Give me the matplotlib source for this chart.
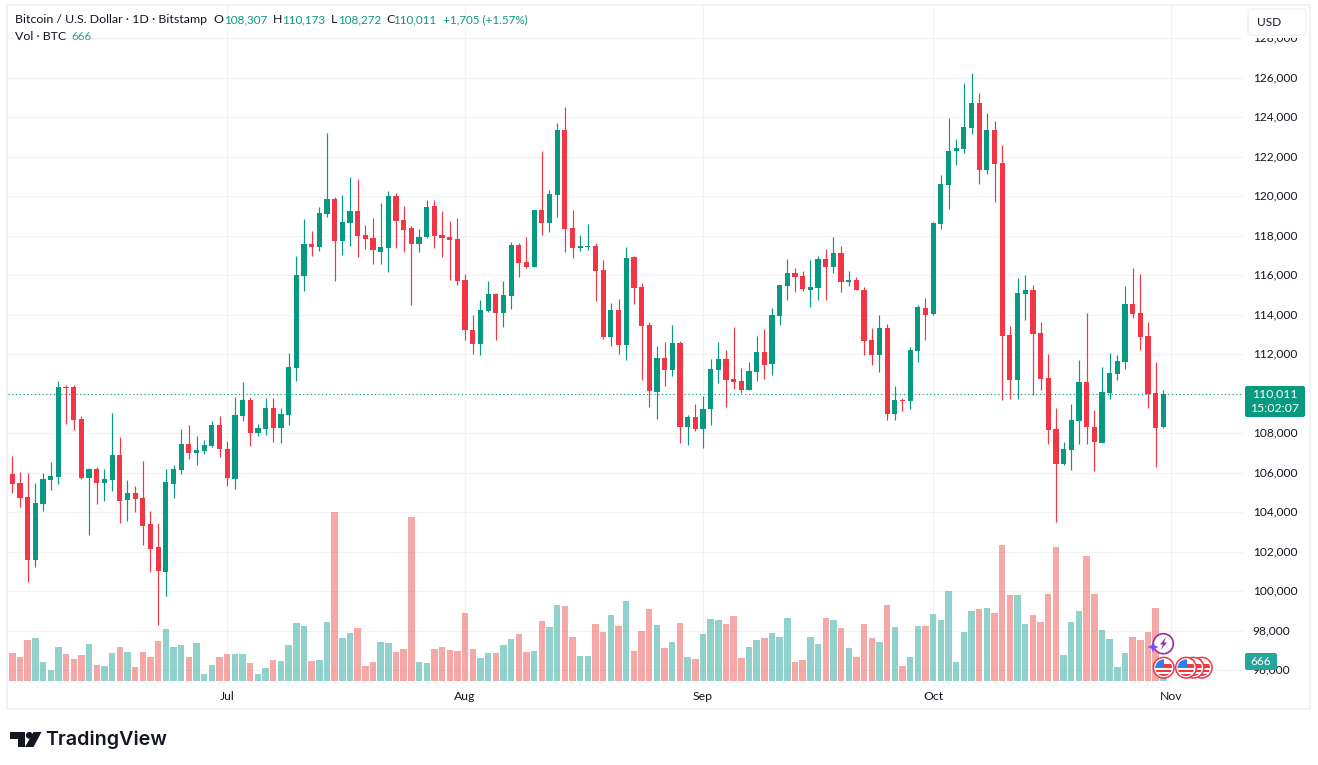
import matplotlib
matplotlib.use("Agg")
import matplotlib.pyplot as plt
import matplotlib.dates as mdates
from matplotlib.patches import Rectangle, FancyBboxPatch, Circle, Polygon
from matplotlib.ticker import FuncFormatter
from matplotlib.transforms import ScaledTranslation
import numpy as np
import pandas as pd

first_day = "2025-06-03"

opens = [105930,105470,104760,101590,104407,105622,105774,110332,110332,108711,
105723,106179,105470,105622,106888,104609,104964,104710,103394,102229,
100963,105420,106129,107445,106989,107091,107344,108407,107192,105673,
108863,109673,108002,108205,109268,108255,108914,111294,115984,117601,
117449,119116,119874,117752,118662,119268,118055,117904,117197,117399,
120026,118813,118409,117601,117954,119521,118055,117954,117853,115782,
113256,112498,114216,115075,114115,114974,117550,116691,116439,119318,
118662,120076,123360,118409,117399,117449,117500,116287,112852,114266,
112448,116944,115428,113509,110095,111818,111210,112578,108322,108829,
108221,109234,111210,111768,110754,110653,110197,111109,112122,111514,
113946,115466,116125,115973,115264,115365,116835,116429,117139,115669,
115771,115264,112730,111970,113338,108981,109690,109639,112173,114352,
114048,118586,120565,122291,122393,123459,124728,121327,123357,121682,
112978,110700,115055,115257,113080,110801,108218,106446,107155,108623,
110598,108320,107509,110041,111004,111611,114548,114093,112928,110041,
108307]

closes = [105420,104710,101590,104457,105673,105825,110332,110281,108661,105723,
106179,105470,105673,106888,104559,104964,104660,103293,102128,101014,
105521,106179,107445,106989,107141,107395,108407,107192,105723,108914,
109673,108002,108255,109268,108255,108964,111345,116016,117601,117449,
119167,119874,117752,118712,119268,118005,117853,117298,117449,120026,
118763,118308,117601,117954,119470,118005,117904,117803,115732,113206,
112498,114266,115075,114115,115024,117550,116641,116439,119318,118662,
120127,123360,118359,117399,117449,117500,116237,112852,114266,112448,
116894,115378,113458,110124,111818,111210,112578,108322,108829,108221,
109234,111261,111768,110704,110602,110197,111160,112122,111464,113997,
115517,116125,115923,115314,115416,116835,116429,117139,115669,115771,
115264,112680,111970,113338,108981,109690,109639,112224,114402,113997,
118648,120616,122291,122443,123509,124728,121327,123357,121631,112928,
110700,115105,115257,113029,110750,108168,106446,107206,108674,110598,
108320,107560,110092,111054,111662,114548,114042,112877,109991,108269,
110011]

highs = [106870,106060,105980,105470,105977,106534,110636,110433,110433,108863,
106230,106281,106179,109015,107800,105622,105318,106584,104052,103445,
106179,106382,108205,108407,107850,107648,108610,108863,107597,109825,
110585,109825,108458,109775,109775,109268,112053,116978,118864,118258,
119470,123209,119975,120076,120986,120885,118561,118914,119672,120278,
120177,119521,118510,118359,119824,119824,119268,118763,118914,116085,
114014,114772,115732,115126,115732,117702,117651,117954,119318,122299,
120329,123714,124522,119318,118055,118611,117651,116792,114620,114822,
117449,116995,115630,113660,112426,112629,113490,112680,108930,109487,
109893,111768,112629,112224,113389,111312,111616,112933,113288,114352,
115517,116835,116379,116227,116784,116987,117341,117949,117493,116227,
115923,115416,113338,113997,113541,110400,109791,112376,114504,114858,
118687,121073,123966,122900,125743,126250,125235,124220,123814,122596,
113434,115865,116017,115510,113637,112016,109282,107560,109484,111712,
114093,109180,111358,112067,111966,115460,116371,116068,113637,111611,
110173]

lows = [104960,104255,100475,101217,104052,105116,105420,108458,108154,105700,
102837,104407,104559,105065,103445,103546,104002,102331,100963,98279,
99748,104710,105926,106686,106382,106939,107293,106787,105318,105166,
108610,107344,107850,107901,107547,107496,108407,110636,115226,116995,
117247,118965,115732,117045,117500,116944,117348,116590,116590,116186,
117399,117197,114519,117197,117904,117399,116944,115782,115530,112700,
111993,111943,114165,112700,113408,114317,115934,116388,116439,118055,
118207,118965,117197,116894,117247,117298,114721,112751,112397,111993,
111690,114570,110680,109316,108727,110400,110906,107511,107410,108119,
107258,108423,110552,109335,110248,110045,110197,110653,110754,110957,
113490,114757,115162,115213,114402,114757,114757,116125,115162,115466,
115264,111970,111464,111109,108677,108677,109133,109234,111616,112730,
113997,118332,119347,121580,122190,123154,120616,121124,119702,109687,
109738,109738,113738,109940,110193,107459,103509,106395,106142,107459,
107459,106091,107509,109738,110700,111257,113839,112219,109282,106294,
108272]

volumes = [4284,3672,6273,6579,2907,1683,5202,4131,3366,3978,
5661,2448,2295,4284,5202,4437,2142,4437,3672,6120,
7956,5202,5508,3672,5814,1071,2448,3672,4131,4131,
4131,2754,1071,1989,3213,3060,5508,8874,8415,3060,
3213,9027,25857,6579,7344,8109,2295,2907,5967,5814,
4437,4896,25092,2907,2754,4896,5202,4743,4590,10404,
4896,3519,4284,4284,5508,6426,7191,4437,4590,9180,
8262,11628,11475,6732,3825,3825,8721,7497,10098,8415,
12240,4590,7650,11016,8568,5049,5967,8874,3672,3366,
7191,9486,9333,8721,9945,3519,5202,6273,6579,7344,
6732,9639,2907,3213,6732,5661,9639,9333,8109,5049,
3672,8721,6579,5967,11628,8262,2295,3672,8415,8415,
10251,9333,13770,2907,7497,10710,11016,11169,10404,20808,
13158,13158,8721,10098,9027,13311,20502,3978,9027,10710,
19125,13311,7803,6426,2142,4284,6732,6273,7497,11169,
666]

price_ticks = list(range(96000, 130000, 2000))

UP = "#089981"
DOWN = "#F23645"
VOL_UP = "#26A69A"
VOL_DOWN = "#EF5350"
INK = "#131722"
GRID = "#F2F3F6"
TICK_FONT = "Lato"

W, H = 1318, 765
plt.rcParams["font.family"] = [TICK_FONT, "DejaVu Sans"]
fig = plt.figure(figsize=(W / 100, H / 100), dpi=100, facecolor="white")

# Pane rectangle in pixels; both panes share it
pane_l, pane_r, pane_t, pane_b = 8, 1243, 5, 681
rect = [pane_l / W, 1 - pane_b / H, (pane_r - pane_l) / W, (pane_b - pane_t) / H]

dates = pd.date_range(first_day, periods=len(opens), freq="D")
xs = mdates.date2num(dates)
o, c, hi, lo, vol = map(np.array, (opens, closes, highs, lows, volumes))
rising = c >= o

# Price pane
ax = fig.add_axes(rect, zorder=1)
ax.set_facecolor("none")
ax.set_ylim(95460, 129686)
ax.set_xlim(xs[0] - 0.57, xs[0] + 160.38)
ax.yaxis.tick_right()
ax.set_yticks(price_ticks)
ax.yaxis.set_major_formatter(FuncFormatter(lambda v, _: f"{v:,.0f}"))
ax.xaxis.set_major_locator(mdates.MonthLocator())
ax.xaxis.set_major_formatter(mdates.DateFormatter("%b"))
ax.tick_params(axis="y", length=0, pad=7.0, labelsize=8.6, labelcolor=INK)
ax.tick_params(axis="x", length=0, pad=7.5, labelsize=8.8, labelcolor=INK)
ax.grid(True, color=GRID, linewidth=0.8)
ax.set_axisbelow(True)
for s in ax.spines.values():
    s.set_visible(False)

# Nudge the price labels up so they sit centred on their grid lines
nudge = ScaledTranslation(0, 1.2 / 100, fig.dpi_scale_trans)
for tick in ax.yaxis.get_major_ticks():
    tick.label2.set_transform(tick.label2.get_transform() + nudge)

candle_colors = np.where(rising, UP, DOWN)
ax.vlines(xs, lo, hi, colors=candle_colors, linewidth=0.85, zorder=3)
body_low = np.minimum(o, c)
body_height = np.maximum(np.abs(c - o), 60)
ax.bar(xs, body_height, bottom=body_low, width=0.68, color=candle_colors, linewidth=0, zorder=4)

ax.axhline(closes[-1], color=UP, linewidth=0.8, linestyle=(0, (1.0, 2.4)), zorder=2)

# Volume pane laid over the same rectangle
ax_vol = fig.add_axes(rect, zorder=2, sharex=ax)
ax_vol.set_facecolor("none")
ax_vol.set_ylim(0, 103428)
ax_vol.set_yticks([])
ax_vol.tick_params(axis="x", length=0, labelbottom=False)
for s in ax_vol.spines.values():
    s.set_visible(False)
ax_vol.bar(xs, vol, width=0.84, color=np.where(rising, VOL_UP, VOL_DOWN), alpha=0.5, linewidth=0)

# Overlay in pixel coordinates for the chrome around the panes
ov = fig.add_axes([0, 0, 1, 1], zorder=3)
ov.set_xlim(0, W)
ov.set_ylim(H, 0)
ov.axis("off")
ov.patch.set_alpha(0)

ov.add_patch(Rectangle((7, 4.5), 1303, 704.5, fill=False, edgecolor="#F1F2F5", linewidth=1.4))

def label(x, y, s, color=INK, size=8.9, **kw):
    kw.setdefault("ha", "left")
    ov.text(x, y, s, color=color, fontsize=size, va="center", **kw)

def tag(x0, y0, x1, y1, color):
    ov.add_patch(FancyBboxPatch((x0 + 2, y0 + 2), x1 - x0 - 4, y1 - y0 - 4,
                                boxstyle="round,pad=2,rounding_size=2",
                                facecolor=color, edgecolor="none"))

# Legend rows above the chart
label(15, 19.5, "Bitcoin / U.S. Dollar · 1D · Bitstamp")
ohlc_legend = [("O", 213, "108,307", 224), ("H", 273, "110,173", 282),
               ("L", 331, "108,272", 338), ("C", 386, "110,011", 393)]
for key, kx, val, vx in ohlc_legend:
    label(kx, 19.5, key)
    label(vx, 19.5, val, color=UP, size=8.35)
label(443, 19.5, "+1,705 (+1.57%)", color=UP, size=8.35)
label(15, 36.5, "Vol · BTC")
label(71, 36.5, "666", color=VOL_UP, size=8.35)

# Currency button with the white margin that masks the labels behind it
ov.add_patch(Rectangle((1246, 7), 62, 31, facecolor="white", edgecolor="none"))
ov.add_patch(FancyBboxPatch((1250, 11), 54, 22, boxstyle="round,pad=2,rounding_size=3",
                            facecolor="white", edgecolor="#F0F1F4", linewidth=1))
label(1257, 22, "USD", size=8.6)

# Last price and last volume tags
tag(1245, 386, 1305, 417, UP)
label(1275, 394, "110,011", color="white", size=8.8, ha="center")
label(1275, 408, "15:02:07", color="white", size=8.8, ha="center")
tag(1245, 653, 1277, 670, VOL_UP)
label(1261, 661.5, "666", color="white", size=8.6, ha="center")

# Event markers on the last bars, stacked right to left
def flag(cx, cy, z, r=10.3):
    ov.add_patch(Circle((cx, cy), r, facecolor="white", edgecolor=DOWN, linewidth=1.1, zorder=z))
    clip = Circle((cx, cy), r - 2, transform=ov.transData)
    stripes = [Rectangle((cx - r, cy - 1.5 + i * 4), 2 * r, 2.2, facecolor=DOWN,
                         edgecolor="none", zorder=z + 0.1) for i in range(3)]
    stripes.append(Rectangle((cx, cy - r + 6.5), r, 2.2, facecolor=DOWN,
                             edgecolor="none", zorder=z + 0.1))
    stripes.append(Rectangle((cx - r, cy - r), r + 0.5, r + 0.5, facecolor="#2D7FF0",
                             edgecolor="none", zorder=z + 0.2))
    for st in stripes:
        ov.add_patch(st)
        st.set_clip_path(clip)

for z, cx in zip((5, 6, 7, 8), (1201.7, 1193.5, 1186, 1163.7)):
    flag(cx, 667.7, z)

ov.add_patch(Circle((1163.3, 643.7), 10, facecolor="white", edgecolor="#9C27B0", linewidth=1.2, zorder=10))
ov.add_patch(Polygon([(1166, 637), (1160, 644.5), (1163, 644.5), (1160.5, 650),
                      (1167, 642.5), (1164, 642.5)], facecolor="#9C27B0", edgecolor="none", zorder=11))
ov.add_patch(Polygon([(1153, 641.5), (1154.6, 645.4), (1158.5, 647), (1154.6, 648.6),
                      (1153, 652.5), (1151.4, 648.6), (1147.5, 647), (1151.4, 645.4)],
                     facecolor="#7C4DFF", edgecolor="none", zorder=11))

# TradingView wordmark
ov.add_patch(Polygon([(10, 732), (24.5, 732), (24.5, 747), (17.5, 747), (17.5, 739), (10, 739)],
                     facecolor=INK, edgecolor="none"))
ov.add_patch(Circle((29.3, 735.3), 3.4, facecolor=INK, edgecolor="none"))
ov.add_patch(Polygon([(33.5, 732), (41.5, 732), (33.5, 747), (25, 747)], facecolor=INK, edgecolor="none"))
ov.text(45.5, 739.5, "TradingView", color=INK, fontsize=14.2, fontweight="semibold", va="center",
        family=["Inter", "DejaVu Sans"])

fig.savefig("out.png", dpi=100, facecolor="white")
